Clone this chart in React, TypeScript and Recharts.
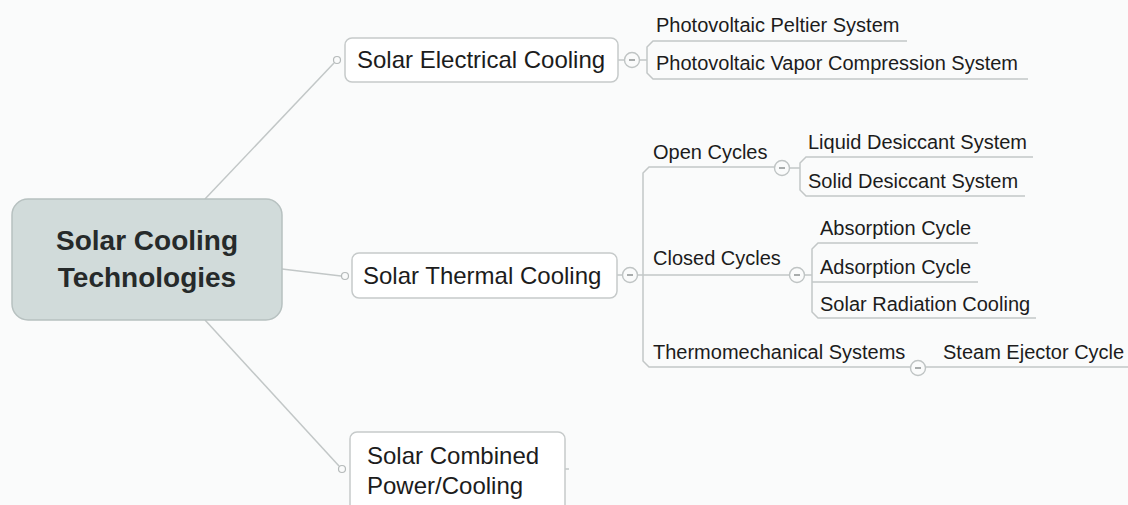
import React from 'react';
import { ScatterChart, Scatter, XAxis, YAxis } from 'recharts';

// ---------- content ----------
const rootLines = ['Solar Cooling', 'Technologies'];
const branchLabels = ['Solar Electrical Cooling', 'Solar Thermal Cooling', 'Solar Combined Power/Cooling'];
const electricalLeaves = ['Photovoltaic Peltier System', 'Photovoltaic Vapor Compression System'];
const thermalGroups = ['Open Cycles', 'Closed Cycles', 'Thermomechanical Systems'];
const openCycleLeaves = ['Liquid Desiccant System', 'Solid Desiccant System'];
const closedCycleLeaves = ['Absorption Cycle', 'Adsorption Cycle', 'Solar Radiation Cooling'];
const thermoLeaves = ['Steam Ejector Cycle'];

// ---------- layout (on a 1128 x 505 grid) ----------
const W = 1128;
const H = 505;
const FONT = '"Liberation Sans", Arial, Helvetica, sans-serif';
const LINE = '#c2c7c7';
const BG = '#fafbfb';
const TEXT = '#1c1c1c';

type Pt = { x: number; y: number };

const rootBox = [{ x: 12, y: 199, w: 270, h: 121 }];
const rootTextPos = [{ x: 147, y: 250 }, { x: 147, y: 287 }];

const branchBoxes = [
  { x: 345, y: 38, w: 273, h: 44 },
  { x: 352, y: 253, w: 265, h: 45 },
  { x: 350, y: 432, w: 215, h: 95 },
];
const branchTextPos = [
  [{ x: 357, y: 68 }],
  [{ x: 363, y: 284 }],
  [{ x: 367, y: 464 }, { x: 367, y: 494 }],
];

const electricalLeafPos = [{ x: 656, y: 32 }, { x: 656, y: 70 }];
const groupPos = [{ x: 653, y: 159 }, { x: 653, y: 265 }, { x: 653, y: 359 }];
const openLeafPos = [{ x: 808, y: 149 }, { x: 808, y: 188 }];
const closedLeafPos = [{ x: 820, y: 235 }, { x: 820, y: 274 }, { x: 820, y: 311 }];
const thermoLeafPos = [{ x: 943, y: 359 }];

const connectorDots: Pt[] = [{ x: 337, y: 60 }, { x: 345, y: 276 }, { x: 342, y: 469 }];
const collapseDots: Pt[] = [
  { x: 632, y: 60 },
  { x: 630, y: 275 },
  { x: 782, y: 168 },
  { x: 797, y: 275 },
  { x: 918, y: 368 },
];

const edgePaths: Pt[][] = [
  // root to branches
  [{ x: 205, y: 199 }, { x: 334, y: 63 }],
  [{ x: 282, y: 269 }, { x: 341, y: 276 }],
  [{ x: 205, y: 320 }, { x: 339, y: 466 }],
  // electrical
  [{ x: 618, y: 60 }, { x: 647, y: 60 }],
  [{ x: 647, y: 60 }, { x: 647, y: 47 }, { x: 653, y: 41 }, { x: 907, y: 41 }],
  [{ x: 647, y: 60 }, { x: 647, y: 73 }, { x: 653, y: 79 }, { x: 1028, y: 79 }],
  // thermal
  [{ x: 617, y: 275 }, { x: 790, y: 275 }],
  [{ x: 643, y: 275 }, { x: 643, y: 173 }, { x: 649, y: 167 }, { x: 776, y: 167 }],
  [{ x: 643, y: 275 }, { x: 643, y: 361 }, { x: 649, y: 367 }, { x: 1128, y: 367 }],
  // open cycles
  [{ x: 788, y: 168 }, { x: 800, y: 168 }],
  [{ x: 800, y: 168 }, { x: 800, y: 163 }, { x: 806, y: 157 }, { x: 1033, y: 157 }],
  [{ x: 800, y: 168 }, { x: 800, y: 190 }, { x: 806, y: 196 }, { x: 1025, y: 196 }],
  // closed cycles
  [{ x: 797, y: 275 }, { x: 812, y: 275 }],
  [{ x: 812, y: 275 }, { x: 812, y: 249 }, { x: 818, y: 243 }, { x: 978, y: 243 }],
  [{ x: 812, y: 282 }, { x: 978, y: 282 }],
  [{ x: 812, y: 275 }, { x: 812, y: 312 }, { x: 818, y: 318 }, { x: 1036, y: 318 }],
  // combined stub
  [{ x: 565, y: 469 }, { x: 569, y: 469 }],
];

type TextItem = { x: number; y: number; label: string; size: number; bold?: boolean; anchor?: string };

const texts: TextItem[] = [
  ...rootLines.map((l, i) => ({ ...rootTextPos[i], label: l, size: 28, bold: true, anchor: 'middle' })),
  ...branchLabels.flatMap((l, i) => {
    const lines = branchTextPos[i].length > 1 ? l.replace(' Power', '\nPower').split('\n') : [l];
    return lines.map((s, j) => ({ ...branchTextPos[i][j], label: s, size: 24 }));
  }),
  ...electricalLeaves.map((l, i) => ({ ...electricalLeafPos[i], label: l, size: 20 })),
  ...thermalGroups.map((l, i) => ({ ...groupPos[i], label: l, size: 20 })),
  ...openCycleLeaves.map((l, i) => ({ ...openLeafPos[i], label: l, size: 20 })),
  ...closedCycleLeaves.map((l, i) => ({ ...closedLeafPos[i], label: l, size: 20 })),
  ...thermoLeaves.map((l, i) => ({ ...thermoLeafPos[i], label: l, size: 20 })),
];

const Empty = () => <g />;

const RootShape = (p: any) => (
  <rect x={p.cx} y={p.cy} width={p.payload.w} height={p.payload.h} rx={16} ry={16}
    fill="#d1dbda" stroke="#b7c1c0" strokeWidth={1.5} />
);

const BoxShape = (p: any) => (
  <rect x={p.cx} y={p.cy} width={p.payload.w} height={p.payload.h} rx={7} ry={7}
    fill="#ffffff" stroke="#c6caca" strokeWidth={1.5} />
);

const ConnectorShape = (p: any) => (
  <circle cx={p.cx} cy={p.cy} r={3.5} fill={BG} stroke="#b5baba" strokeWidth={1.2} />
);

const CollapseShape = (p: any) => (
  <g>
    <circle cx={p.cx} cy={p.cy} r={7.5} fill={BG} stroke="#bfc4c4" strokeWidth={1.4} />
    <line x1={p.cx - 3} y1={p.cy} x2={p.cx + 3} y2={p.cy} stroke="#858a8a" strokeWidth={1.4} />
  </g>
);

const TextShape = (p: any) => (
  <text x={p.cx} y={p.cy} fontFamily={FONT} fontSize={p.payload.size}
    fontWeight={p.payload.bold ? 'bold' : 'normal'} textAnchor={p.payload.anchor || 'start'}
    fill={p.payload.bold ? '#262a2a' : TEXT}>
    {p.payload.label}
  </text>
);

export default function App() {
  return (
    <div style={{ position: 'absolute', left: 0, top: 0, width: W, height: H, background: BG }}>
      <ScatterChart width={W} height={H} margin={{ top: 0, right: 0, bottom: 0, left: 0 }}>
        <XAxis type="number" dataKey="x" domain={[0, W]} allowDataOverflow hide />
        <YAxis type="number" dataKey="y" domain={[0, H]} allowDataOverflow reversed hide />
        {edgePaths.map((pts, i) => (
          <Scatter key={'e' + i} data={pts} line={{ stroke: LINE, strokeWidth: 1.5 }} lineType="joint"
            shape={Empty} isAnimationActive={false} />
        ))}
        <Scatter data={rootBox} shape={RootShape} isAnimationActive={false} />
        <Scatter data={branchBoxes} shape={BoxShape} isAnimationActive={false} />
        <Scatter data={connectorDots} shape={ConnectorShape} isAnimationActive={false} />
        <Scatter data={collapseDots} shape={CollapseShape} isAnimationActive={false} />
        <Scatter data={texts} shape={TextShape} isAnimationActive={false} />
      </ScatterChart>
    </div>
  );
}
